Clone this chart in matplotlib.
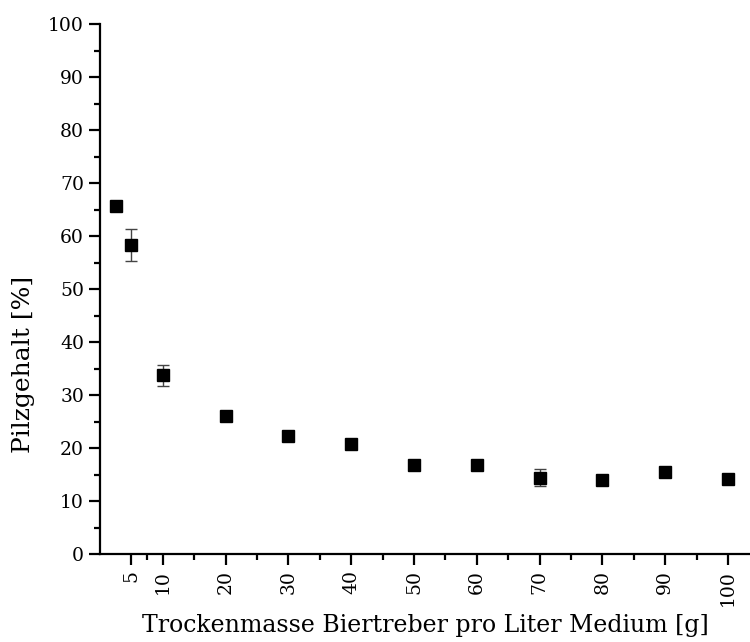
import numpy as np
import matplotlib.pyplot as plt
from matplotlib.ticker import FixedLocator, MultipleLocator

plt.rcParams['font.family'] = ['DejaVu Serif']

# dry spent grain per litre of medium [g] and fungal share [%]
masse = [2.5, 5, 10, 20, 30, 40, 50, 60, 70, 80, 90, 100]
pilzgehalt = [65.7, 58.3, 33.7, 26.1, 22.2, 20.7, 16.8, 16.8, 14.4, 14.0, 15.5, 14.2]
fehler = [0.0, 3.0, 2.0, 0.0, 0.0, 0.0, 0.0, 0.0, 1.6, 0.0, 0.0, 0.0]

x_ticks = [5, 10, 20, 30, 40, 50, 60, 70, 80, 90, 100]
x_minor = [7.5, 15, 25, 35, 45, 55, 65, 75, 85, 95]

fig = plt.figure(figsize=(7.5, 6.42), dpi=100)
ax = fig.add_axes([0.1333, 0.137, 0.8667, 0.8256])

ax.errorbar(masse, pilzgehalt, yerr=fehler, fmt='s', color='black',
            markersize=8, ecolor='#444444', elinewidth=1.0, capsize=4,
            capthick=1.0, zorder=3)

ax.set_xlim(0, 103.5)
ax.set_ylim(0, 100)
ax.xaxis.set_major_locator(FixedLocator(x_ticks))
ax.xaxis.set_minor_locator(FixedLocator(x_minor))
ax.yaxis.set_major_locator(MultipleLocator(10))
ax.yaxis.set_minor_locator(MultipleLocator(5))

for side in ['top', 'right']:
    ax.spines[side].set_visible(False)
for side in ['left', 'bottom']:
    ax.spines[side].set_linewidth(1.6)

ax.tick_params(which='major', direction='out', length=8, width=1.6,
               labelsize=13.5)
ax.tick_params(which='minor', direction='out', length=4, width=1.6)
ax.tick_params(axis='x', which='major', labelrotation=90)

ax.set_xlabel('Trockenmasse Biertreber pro Liter Medium [g]', fontsize=17,
              labelpad=6)
ax.set_ylabel('Pilzgehalt [%]', fontsize=18)
ax.yaxis.set_label_coords(-0.1, 0.357)

fig.savefig('out.png', dpi=100)
